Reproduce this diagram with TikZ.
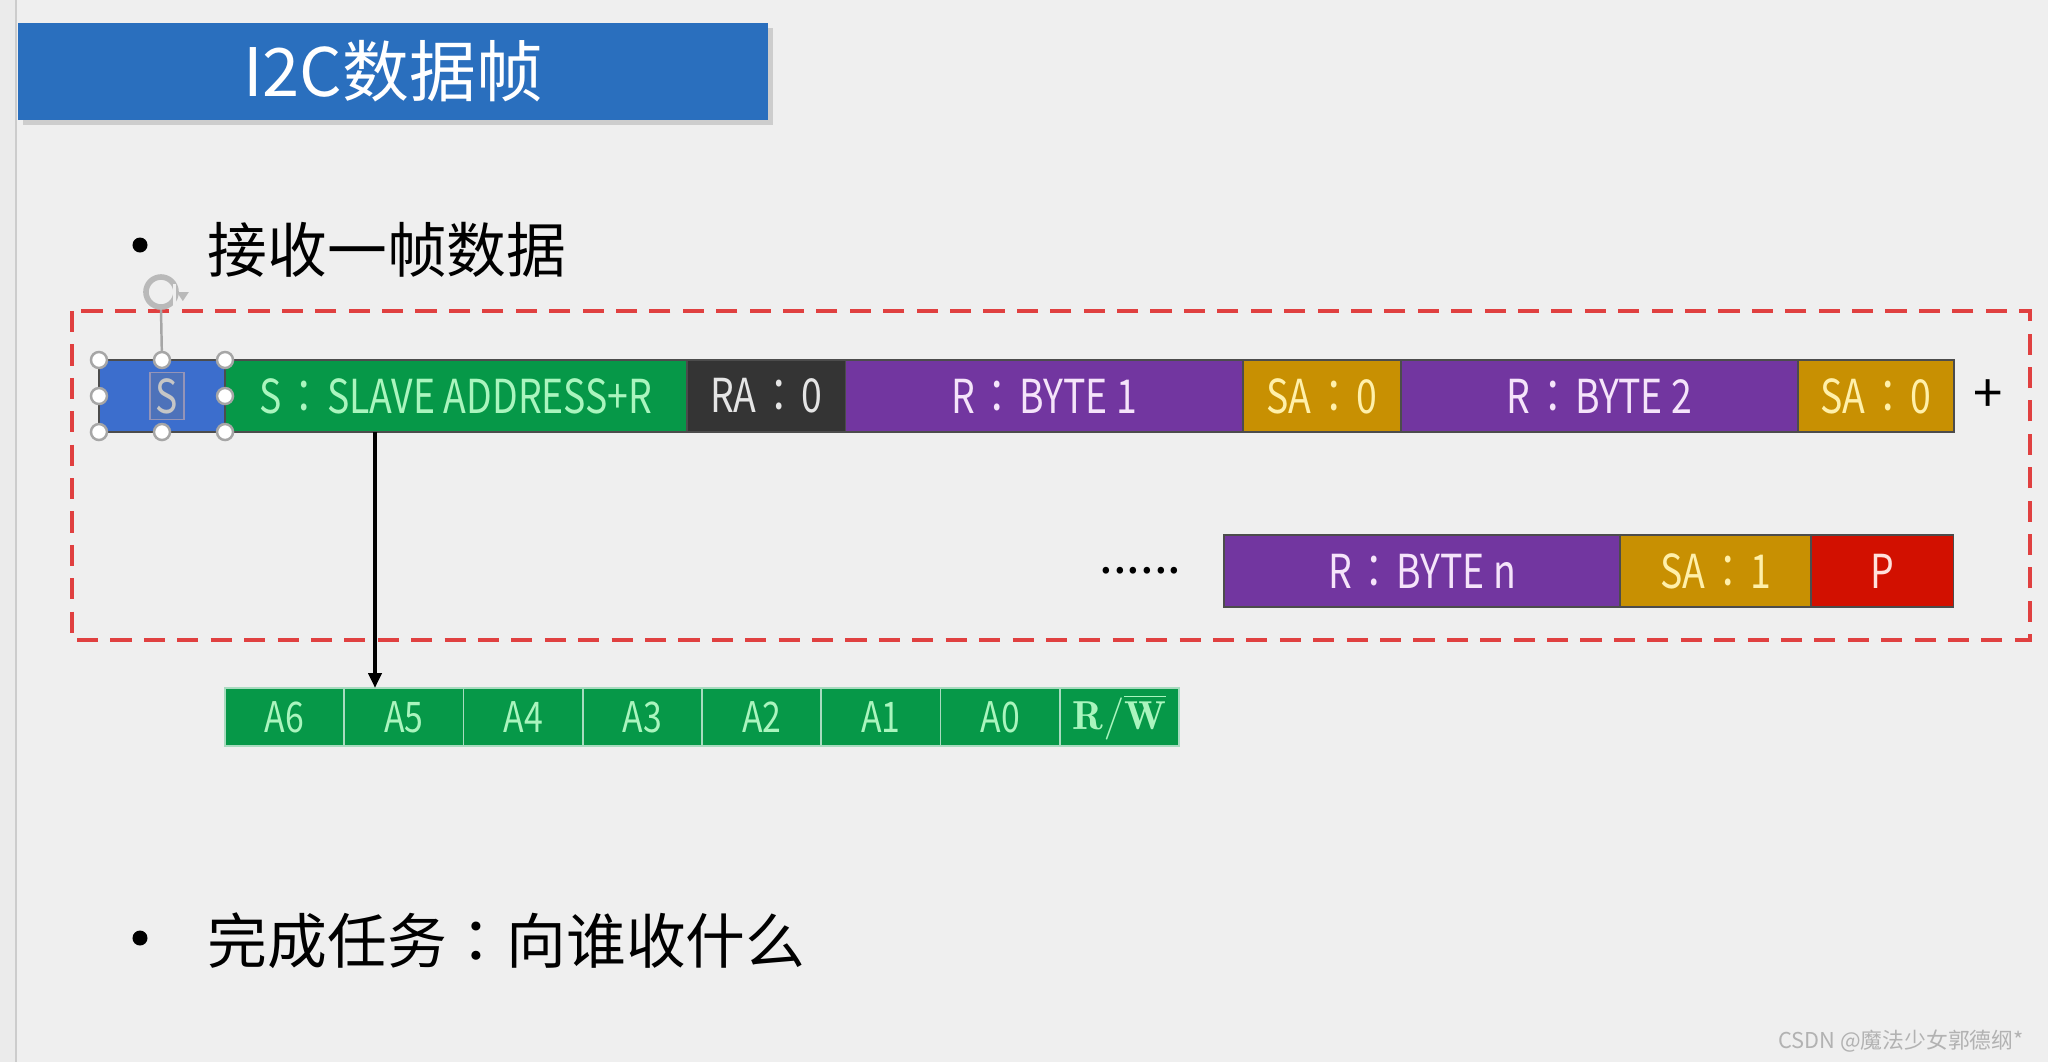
\documentclass[tikz,border=0pt]{standalone}
\usepackage{fontspec}
\usetikzlibrary{positioning,arrows.meta,shadows}
\newfontfamily\cjk{Noto Sans CJK SC}
\newfontfamily\cjktc{Noto Sans CJK TC}
\newfontfamily\fieldfont[FakeStretch=0.8]{Noto Sans CJK TC}
\newcommand\colsep{\hspace{0.08em}：\hspace{0.08em}}
\definecolor{slidebg}{RGB}{239,239,239}
\definecolor{titleblue}{RGB}{42,111,190}
\definecolor{sblue}{RGB}{60,110,205}
\definecolor{addrgreen}{RGB}{6,152,72}
\definecolor{ackdark}{RGB}{52,52,52}
\definecolor{bytepurple}{RGB}{114,54,160}
\definecolor{ackgold}{RGB}{200,144,2}
\definecolor{stopred}{RGB}{210,16,0}
\definecolor{framered}{RGB}{224,64,64}
\definecolor{mint}{RGB}{170,245,190}
\definecolor{palepurple}{RGB}{245,228,250}
\definecolor{paleyellow}{RGB}{255,240,170}
\definecolor{palered}{RGB}{255,225,220}

\begin{document}
\begin{tikzpicture}[x=0.01cm, y=-0.01cm,
    fld/.style={minimum height=0.72cm, inner sep=0pt, outer sep=0pt, draw=black!70, line width=0.5pt,
      font=\fieldfont\fontsize{13.3}{14}\selectfont},
    bit/.style={fill=addrgreen, draw=white!65!addrgreen, line width=0.5pt, minimum width=1.1925cm,
      minimum height=0.58cm, inner sep=0pt, outer sep=0pt, text=mint, font=\fieldfont\fontsize{12}{13}\selectfont},
    grip/.style={circle, draw=gray!70, fill=white, line width=0.7pt, minimum size=0.16cm, inner sep=0pt},
    dot/.style={circle, fill=black, minimum size=0.15cm, inner sep=0pt},
    bullet/.style={anchor=west, inner sep=0pt, font=\cjk\fontsize{17}{20}\selectfont},
    arr/.style={-{Triangle[length=0.15cm,width=0.13cm]}, line width=1.1pt, black}]
  % slide background
  \fill[slidebg] (0,0) rectangle (2048,1062);
  \useasboundingbox (0,0) rectangle (2048,1062);
  \fill[black!8] (0,0) rectangle (15,1062);
  \draw[black!20, line width=0.8pt] (16,0) -- (16,1062);
  % title bar
  \node[fill=titleblue, minimum width=7.5cm, minimum height=0.97cm, inner sep=0pt,
    drop shadow={shadow xshift=0.05cm, shadow yshift=-0.05cm, opacity=0.3},
    text=white, font=\cjk\fontsize{19}{22}\selectfont] (title) at (393,71.5) {I2C数据帧};
  % bullets
  \node[dot] (dot1) at (140,245) {};
  \node[bullet] (recv) at (207,250) {接收一帧数据};
  \node[dot] (dot2) at (140,938) {};
  \node[bullet] (task) at (207,941) {完成任务{\cjktc ：}向谁收什么};
  % dashed frame
  \draw[framered, line width=0.9pt, dash pattern=on 6pt off 3.5pt] (72,311) rectangle (2030,640);
  % Row 1: start, address, bytes
  \node[fld, fill=sblue, minimum width=1.26cm] (sbit) at (162,396) {};
  \node[fld, fill=addrgreen, text=mint, minimum width=4.62cm, right=0pt of sbit] (addr) {S\colsep SLAVE ADDRESS+R};
  \node[fld, fill=ackdark, text=white!90!black, minimum width=1.58cm, right=0pt of addr] (ra) {RA\colsep 0};
  \node[fld, fill=bytepurple, text=palepurple, minimum width=3.97cm, right=0pt of ra] (byte1) {R\colsep BYTE 1};
  \node[fld, fill=ackgold, text=paleyellow, minimum width=1.58cm, right=0pt of byte1] (sa1) {SA\colsep 0};
  \node[fld, fill=bytepurple, text=palepurple, minimum width=3.97cm, right=0pt of sa1] (byte2) {R\colsep BYTE 2};
  \node[fld, fill=ackgold, text=paleyellow, minimum width=1.56cm, right=0pt of byte2] (sa2) {SA\colsep 0};
  \node[font=\cjk\fontsize{15}{18}\selectfont, right=0.07cm of sa2] (plus) {+};
  % Row 2: last byte, stop
  \node[fld, fill=bytepurple, text=palepurple, minimum width=3.96cm, anchor=west] (byten) at (1224,571) {R\colsep BYTE n};
  \node[fld, fill=ackgold, text=paleyellow, minimum width=1.91cm, right=0pt of byten] (sa3) {SA\colsep 1};
  \node[fld, fill=stopred, text=palered, minimum width=1.42cm, right=0pt of sa3] (stop) {P};
  \node[font=\cjk\fontsize{14}{14}\selectfont, left=0.3cm of byten] (dots) {......};
  % selected start box
  \node[draw=blue!20!gray!70, fill=sblue!75!gray, minimum width=0.34cm, minimum height=0.47cm, inner sep=0pt,
    text=gray!45, font=\fieldfont\fontsize{13.3}{14}\selectfont] (stxt) at ([xshift=0.05cm]sbit.center) {S};
  \node[circle, draw=gray!55, line width=1.6pt, minimum size=0.3cm, inner sep=0pt] (rot) at (161,292) {};
  \fill[slidebg] ([shift={(0.02cm,-0.02cm)}]rot.south east) rectangle ([shift={(-0.06cm,0.08cm)}]rot.east);
  \fill[gray!55] ([xshift=-0.02cm]rot.east) -- ++(0.12cm,0) -- ++(-0.06cm,-0.09cm) -- cycle;
  \foreach \a [count=\k] in {north west,north,north east,west,east,south west,south,south east}
    \node[grip] (grip\k) at (sbit.\a) {};
  \draw[gray!70, line width=0.7pt] (grip2) -- (rot.south);
  % address bits
  \foreach \lbl [count=\i] in {A6,A5,A4,A3,A2,A1,A0}
    \node[bit] (bit\i) at ({225+(\i-0.5)*119.25},717) {\lbl};
  \node[bit, font=\fontsize{11.5}{12}\selectfont] (bit8) at ({225+7.5*119.25},717) {$\mathbf{R}/\overline{\mathbf{W}}$};
  \coordinate (tap) at (375,0);
  \draw[arr] (addr.south -| tap) -- (bit2.north -| tap);
  % watermark
  \node[anchor=east, text=gray!60, font=\cjk\fontsize{6.2}{7}\selectfont] (mark) at (2036,1041) {CSDN @魔法少女郭德纲*};
\end{tikzpicture}
\end{document}
